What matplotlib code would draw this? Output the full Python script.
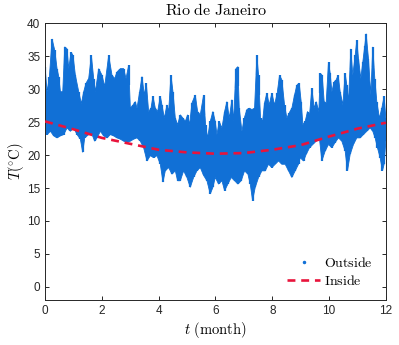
import numpy as np
import matplotlib
matplotlib.use("Agg")
import matplotlib.pyplot as plt

plt.rcParams['mathtext.fontset'] = 'cm'
plt.rcParams['font.family'] = 'Liberation Sans'

# outside temperature, upper envelope (month, degC)
t_hi = [0.000, 0.070, 0.152, 0.246, 0.340, 0.422, 0.481, 0.540, 0.622, 0.692,
        0.774, 0.833, 0.915, 0.985, 1.067, 1.185, 1.278, 1.360, 1.443, 1.536,
        1.630, 1.712, 1.771, 1.888, 2.006, 2.099, 2.240, 2.357, 2.451, 2.533,
        2.651, 2.768, 2.850, 2.944, 3.003, 3.096, 3.178, 3.237, 3.331, 3.413,
        3.495, 3.565, 3.647, 3.730, 3.800, 3.882, 3.964, 4.058, 4.117, 4.199,
        4.292, 4.351, 4.433, 4.504, 4.586, 4.668, 4.762, 4.855, 4.938, 5.020,
        5.090, 5.172, 5.289, 5.372, 5.465, 5.583, 5.653, 5.723, 5.817, 5.911,
        5.993, 6.052, 6.134, 6.228, 6.322, 6.404, 6.486, 6.580, 6.638, 6.721,
        6.791, 6.838, 6.932, 7.014, 7.108, 7.190, 7.283, 7.377, 7.459, 7.518,
        7.588, 7.659, 7.729, 7.811, 7.893, 7.987, 8.081, 8.175, 8.257, 8.339,
        8.433, 8.515, 8.597, 8.691, 8.785, 8.867, 8.949, 9.019, 9.078, 9.160,
        9.242, 9.313, 9.395, 9.477, 9.547, 9.641, 9.688, 9.758, 9.829, 9.899,
        9.981, 10.040, 10.099, 10.181, 10.251, 10.321, 10.392, 10.486, 10.568, 10.626,
        10.685, 10.767, 10.837, 10.920, 10.978, 11.037, 11.119, 11.189, 11.260, 11.307,
        11.389, 11.471, 11.541, 11.612, 11.682, 11.776, 11.858, 11.940, 12.000]
T_hi = [33.3, 29.6, 31.9, 37.6, 35.9, 33.1, 31.9, 29.6, 29.6, 36.4,
        36.1, 33.1, 35.6, 35.1, 32.1, 29.6, 27.8, 29.6, 30.9, 31.6,
        35.1, 31.6, 29.6, 33.1, 32.1, 30.4, 35.1, 32.1, 31.6, 32.6,
        33.1, 33.1, 31.6, 33.6, 27.1, 27.6, 28.1, 27.1, 29.6, 31.9,
        29.1, 30.9, 26.6, 27.1, 28.9, 27.1, 26.6, 28.9, 27.6, 25.6,
        27.6, 26.6, 32.1, 29.6, 25.6, 24.6, 26.1, 25.6, 25.1, 26.1,
        24.6, 27.9, 29.1, 26.6, 26.1, 29.1, 24.6, 22.6, 25.1, 26.6,
        25.1, 23.1, 25.1, 24.1, 26.6, 28.1, 25.6, 28.4, 25.1, 33.1,
        33.4, 27.1, 23.6, 25.6, 26.9, 27.1, 26.9, 27.1, 35.1, 32.1,
        25.6, 25.1, 27.9, 29.4, 27.6, 29.4, 27.6, 29.4, 32.1, 31.4,
        27.6, 25.6, 26.4, 27.1, 29.1, 30.6, 30.9, 28.1, 24.6, 25.1,
        26.6, 26.1, 30.1, 27.1, 28.1, 26.6, 32.4, 32.1, 28.1, 27.9,
        34.1, 32.4, 29.6, 31.1, 31.4, 32.1, 29.6, 27.6, 32.4, 30.6,
        28.1, 36.1, 32.1, 35.1, 37.4, 34.6, 31.6, 34.1, 36.6, 38.4,
        34.6, 29.1, 36.4, 31.6, 28.1, 25.6, 27.1, 28.9, 25.6]

# outside temperature, lower envelope
t_lo = [0.000, 0.070, 0.188, 0.305, 0.422, 0.540, 0.657, 0.774, 0.891, 1.009,
        1.126, 1.243, 1.325, 1.396, 1.536, 1.654, 1.748, 1.830, 1.947, 2.064,
        2.182, 2.299, 2.416, 2.533, 2.651, 2.768, 2.885, 3.002, 3.120, 3.237,
        3.354, 3.471, 3.589, 3.706, 3.823, 3.941, 4.058, 4.152, 4.234, 4.351,
        4.468, 4.586, 4.668, 4.762, 4.879, 4.996, 5.113, 5.231, 5.348, 5.465,
        5.583, 5.700, 5.817, 5.911, 5.993, 6.111, 6.228, 6.322, 6.439, 6.556,
        6.674, 6.791, 6.908, 7.025, 7.143, 7.225, 7.307, 7.401, 7.518, 7.635,
        7.753, 7.870, 7.987, 8.104, 8.222, 8.339, 8.456, 8.574, 8.691, 8.808,
        8.925, 8.984, 9.102, 9.195, 9.313, 9.430, 9.547, 9.665, 9.747, 9.864,
        9.981, 10.099, 10.216, 10.333, 10.450, 10.568, 10.650, 10.744, 10.861, 10.978,
        11.096, 11.213, 11.330, 11.447, 11.541, 11.623, 11.705, 11.799, 11.881, 11.940,
        12.000]
T_lo = [24.1, 23.1, 23.6, 22.9, 22.6, 22.9, 23.1, 24.1, 23.6, 24.1,
        23.1, 22.4, 20.4, 22.6, 23.1, 23.1, 22.1, 22.6, 23.6, 22.9,
        22.6, 23.1, 22.9, 22.6, 22.4, 22.1, 21.9, 22.1, 22.4, 22.6,
        22.1, 21.1, 19.1, 19.9, 19.6, 19.9, 18.6, 15.9, 17.6, 18.1,
        17.1, 17.6, 16.1, 16.1, 17.6, 16.6, 15.1, 16.6, 17.6, 18.1,
        16.9, 16.1, 14.1, 15.1, 16.6, 15.6, 16.1, 14.6, 15.6, 16.6,
        16.1, 15.6, 16.1, 17.6, 17.1, 15.6, 13.1, 15.1, 16.6, 17.6,
        17.6, 18.6, 18.1, 18.6, 19.1, 18.6, 18.6, 17.6, 16.6, 17.6,
        18.6, 19.6, 19.1, 20.1, 21.1, 21.6, 22.1, 22.4, 19.1, 20.6,
        21.6, 21.1, 21.9, 22.6, 22.1, 20.6, 17.6, 20.1, 21.6, 22.6,
        22.6, 23.1, 23.6, 24.1, 23.6, 22.6, 21.1, 19.6, 17.6, 18.6,
        22.1]

# inside temperature
t_in = [0, 1, 2, 3, 4, 5, 6, 7, 8, 9, 10, 11, 12]
T_in = [25.1, 23.9, 22.6, 21.7, 20.8, 20.4, 20.2, 20.3, 20.8, 21.5, 22.8, 24.0, 24.9]

blue = '#1170d6'
red = '#e8143c'

fig = plt.figure(figsize=(3.99, 3.45), dpi=100)
ax = fig.add_axes([0.113, 0.130, 0.854, 0.803])

# band of outside readings, with short vertical strokes at each reading
hi = np.array(T_hi)
lo = np.array(T_lo)
ax.fill(np.r_[t_hi, t_lo[::-1]], np.r_[hi, lo[::-1]],
        color=blue, lw=0.6, zorder=2)
ax.vlines(t_hi, hi - 3, hi, color=blue, lw=1.6, zorder=2)
ax.vlines(t_lo, lo, lo + 3, color=blue, lw=1.6, zorder=2)
ax.plot([], [], '.', color=blue, ms=3, label=r'$\mathrm{Outside}$')
ax.plot(t_in, T_in, '--', color=red, lw=1.9, dashes=(3, 2.2),
        label=r'$\mathrm{Inside}$', zorder=3)

ax.set_xlim(0, 12)
ax.set_ylim(-2, 40)
ax.set_xticks(range(0, 13, 2))
ax.set_yticks(range(0, 41, 5))
ax.tick_params(direction='in', top=True, right=True, labelsize=8.5,
               length=3, width=0.7, colors='#262626', labelcolor='#262626')
for s in ax.spines.values():
    s.set_linewidth(0.7)
    s.set_color('#262626')

ax.set_title(r'$\mathrm{Rio\ de\ Janeiro}$', fontsize=11.5, pad=6)
ax.set_xlabel(r'$t\ (\mathrm{month})$', fontsize=10.5, labelpad=2)
ax.set_ylabel(r'$T(^{\circ}\mathrm{C})$', fontsize=10.5, labelpad=1)

ax.legend(loc='lower right', frameon=False, fontsize=10, handlelength=2.4,
          handletextpad=0.3, labelspacing=0.25, borderaxespad=0.4,
          bbox_to_anchor=(0.995, 0.005))

fig.savefig('out.png', dpi=100)
